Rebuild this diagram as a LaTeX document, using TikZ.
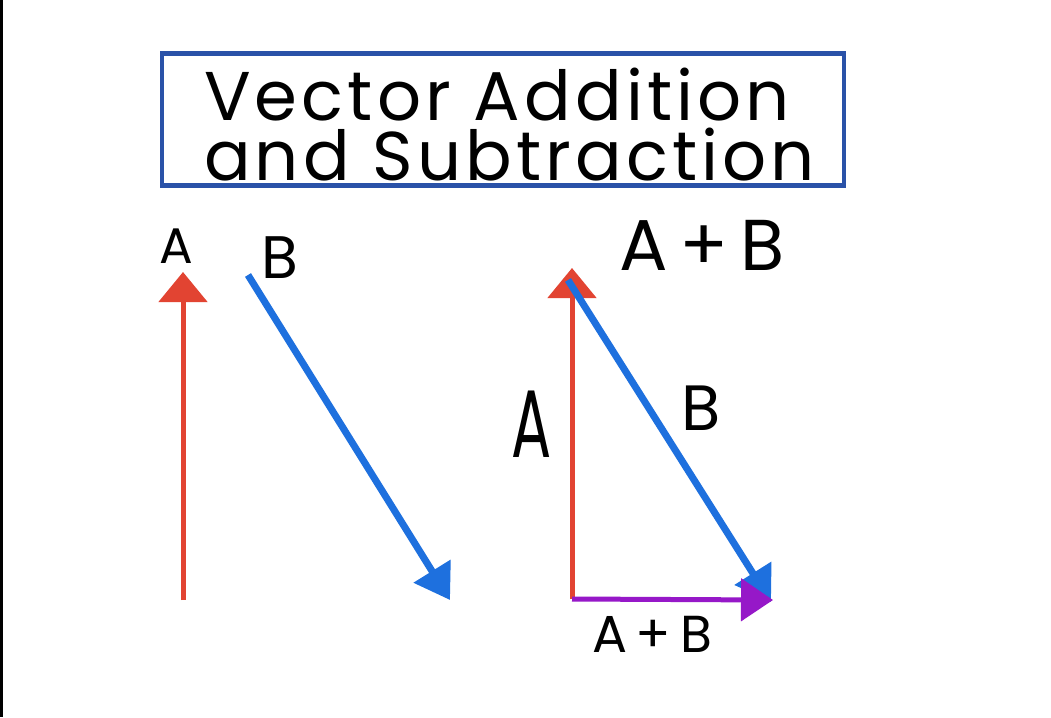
\documentclass[tikz,border=0pt]{standalone}
\usepackage{fontspec}
\setmainfont{Poppins}
\newfontfamily\spacedfont[LetterSpace=6]{Poppins}
\usetikzlibrary{arrows.meta}
\definecolor{vred}{RGB}{226,68,50}
\definecolor{vblue}{RGB}{30,112,222}
\definecolor{vbox}{RGB}{42,82,168}
\definecolor{vpurple}{RGB}{150,24,200}
\tikzset{
  lbl/.style={inner sep=0pt, text=black, font=\fontsize{#1}{#1}\selectfont},
  ttl/.style={inner sep=0pt, text=black, anchor=base, font=\spacedfont\fontsize{#1}{#1}\selectfont},
  redvec/.style={draw=vred, line width=5pt, -{Triangle[width=48pt,length=30pt]}},
  bluevec/.style={draw=vblue, line width=7pt, -{Triangle[width=42pt,length=34pt]}},
  purplevec/.style={draw=vpurple, line width=5pt, -{Triangle[width=42pt,length=32pt]}},
}
\begin{document}
\begin{tikzpicture}[x=1pt,y=-1pt]
\useasboundingbox (0,0) rectangle (1051,717);
\fill[white] (0,0) rectangle (1051,717);
\draw[black, line width=3pt] (1.5,0) -- (1.5,717);
% title
\draw[vbox, line width=4.5pt] (162,53.5) rectangle (844,185.5);
\node[inner sep=0pt, text=black, anchor=base west, align=left,
      font=\spacedfont\fontsize{69}{60}\selectfont] (t1) at (204,180)
      {Vector Addition\\and Subtraction};
% left vectors
\coordinate (a0) at (183,600);
\coordinate (a1) at (183,272);
\draw[redvec] (a0) -- (a1);
\node[lbl=50] (la) at (176,246) {A};
\coordinate (b0) at (248,275);
\coordinate (b1) at (450,600);
\draw[bluevec] (b0) -- (b1);
\node[ttl=60] (lb) at (280,278) {B};
% right triangle
\coordinate (c0) at (572,599);
\coordinate (c1) at (572,268);
\coordinate (d0) at (568,280);
\coordinate (d1) at (771,602);
\coordinate (e1) at (773,600);
\draw[redvec] (c0) -- (c1);
\draw[bluevec] (d0) -- (d1);
\draw[purplevec] (c0) -- (e1);
\node[ttl=72] (lab) at (702,270) {A\,+\,B};
\node[lbl=96] (la2) at (532,424) {\scalebox{0.62}[1]{A}};
\node[ttl=64] (lb2) at (701,430) {B};
\node[ttl=52] (lab2) at (652,652) {A\,+\,B};
\end{tikzpicture}
\end{document}
